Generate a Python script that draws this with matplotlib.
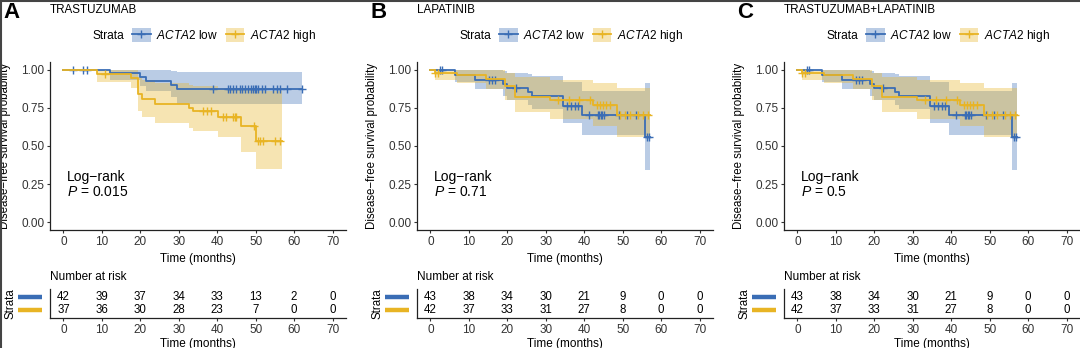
import matplotlib
matplotlib.use("Agg")
import matplotlib.pyplot as plt
import numpy as np
from matplotlib.lines import Line2D
from matplotlib.patches import Patch
from matplotlib.legend_handler import HandlerTuple

plt.rcParams["font.family"] = ["Liberation Sans", "DejaVu Sans"]
plt.rcParams["mathtext.fontset"] = "custom"
plt.rcParams["mathtext.rm"] = "Liberation Sans"
plt.rcParams["mathtext.it"] = "Liberation Sans:italic"

BLUE = "#3A6DB5"
YELLOW = "#E8B424"
TXT = "#333333"

# ---- panel A: trastuzumab ----
a_low_t = [0, 12.0, 20.0, 21.5, 28.0, 29.5]
a_low_s = [1.0, 0.976, 0.952, 0.928, 0.900, 0.873]
a_low_up = [1.0, 1.0, 1.0, 1.0, 0.99, 0.985]
a_low_lo = [1.0, 0.93, 0.89, 0.86, 0.82, 0.775]
a_low_cens = [2.6, 5.0, 6.0, 38.9, 42.8, 43.4, 44.1, 45.0, 45.9, 46.5, 47.2, 47.9,
              48.9, 49.3, 49.7, 50.1, 50.5, 51.6, 52.4, 54.6, 55.5, 56.4, 58.2, 62.1]
a_low_end = 62.1

a_high_t = [0, 8.6, 17.5, 19.5, 20.4, 23.9, 32.7, 33.6, 40.3, 46.3, 50.1]
a_high_s = [1.0, 0.973, 0.946, 0.838, 0.810, 0.774, 0.749, 0.726, 0.693, 0.632, 0.535]
a_high_up = [1.0, 1.0, 1.0, 0.95, 0.93, 0.91, 0.90, 0.89, 0.88, 0.87, 0.86]
a_high_lo = [1.0, 0.92, 0.88, 0.73, 0.69, 0.65, 0.62, 0.60, 0.56, 0.46, 0.35]
a_high_cens = [10.7, 36.3, 37.4, 38.3, 41.5, 42.4, 44.1, 44.6, 45.0, 49.5,
               50.5, 51.1, 52.0, 55.1, 56.4]
a_high_end = 56.8

a_risk_low = [42, 39, 37, 34, 33, 13, 2, 0]
a_risk_high = [37, 36, 30, 28, 23, 7, 0, 0]

# ---- panel B: lapatinib ----
b_low_t = [0, 6.5, 11.5, 18.8, 19.9, 25.5, 26.4, 34.6, 39.3, 55.7]
b_low_s = [1.0, 0.965, 0.932, 0.906, 0.880, 0.855, 0.830, 0.763, 0.700, 0.560]
b_low_up = [1.0, 1.0, 1.0, 0.99, 0.98, 0.97, 0.96, 0.92, 0.86, 0.91]
b_low_lo = [1.0, 0.92, 0.87, 0.83, 0.80, 0.77, 0.74, 0.65, 0.57, 0.345]
b_low_cens = [2.6, 3.0, 15.2, 16.1, 16.7, 22.2, 35.4, 36.5, 37.6, 38.5, 41.3, 43.6,
              43.9, 44.3, 44.6, 45.2, 49.1, 51.2, 53.4, 56.3, 56.8]
b_low_end = 57.0

b_high_t = [0, 1.3, 7.0, 14.5, 19.5, 22.0, 31.1, 42.2, 48.4]
b_high_s = [1.0, 0.976, 0.963, 0.940, 0.890, 0.823, 0.800, 0.770, 0.700]
b_high_up = [1.0, 1.0, 1.0, 1.0, 0.98, 0.95, 0.93, 0.91, 0.88]
b_high_lo = [1.0, 0.93, 0.91, 0.87, 0.80, 0.72, 0.68, 0.63, 0.56]
b_high_cens = [1.3, 1.9, 33.3, 36.0, 38.6, 41.4, 43.2, 44.0, 44.8, 45.6, 46.6,
               49.3, 50.6, 51.9, 54.1, 55.4, 56.7]
b_high_end = 57.0

b_risk_low = [43, 38, 34, 30, 21, 9, 0, 0]
b_risk_high = [42, 37, 33, 31, 27, 8, 0, 0]

# panel C (combination) shows the same curves and risk counts as B
c_risk_low = [43, 38, 34, 30, 21, 9, 0, 0]
c_risk_high = [42, 37, 33, 31, 27, 8, 0, 0]

risk_times = [0, 10, 20, 30, 40, 50, 60, 70]
titles = ["TRASTUZUMAB", "LAPATINIB", "TRASTUZUMAB+LAPATINIB"]
letters = ["A", "B", "C"]
pvals = ["0.015", "0.71", "0.5"]


def draw_km(ax, t, s, up, lo, cens, end, color):
    tt = np.append(t, end)
    ss = np.append(s, s[-1])
    ax.fill_between(tt, np.append(lo, lo[-1]), np.append(up, up[-1]),
                    step="post", color=color, alpha=0.35, lw=0)
    ax.step(tt, ss, where="post", color=color, lw=1.3)
    idx = np.searchsorted(t, cens, side="right") - 1
    ax.plot(cens, np.asarray(s)[idx], ls="none", marker="+", ms=6, mew=1.0,
            color=color)


def style_axis(ax):
    for side in ["top", "right"]:
        ax.spines[side].set_visible(False)
    for side in ["left", "bottom"]:
        ax.spines[side].set_color("#222222")
        ax.spines[side].set_linewidth(0.9)
    ax.tick_params(colors=TXT, labelsize=8.5, length=2.5, width=0.8, pad=1.5)
    ax.set_xlim(-3.5, 73.5)
    ax.set_xticks(risk_times)


W, H = 1080, 348
fig = plt.figure(figsize=(W / 100, H / 100), dpi=100)

panels = [
    (a_low_t, a_low_s, a_low_up, a_low_lo, a_low_cens, a_low_end,
     a_high_t, a_high_s, a_high_up, a_high_lo, a_high_cens, a_high_end,
     a_risk_low, a_risk_high),
    (b_low_t, b_low_s, b_low_up, b_low_lo, b_low_cens, b_low_end,
     b_high_t, b_high_s, b_high_up, b_high_lo, b_high_cens, b_high_end,
     b_risk_low, b_risk_high),
    (b_low_t, b_low_s, b_low_up, b_low_lo, b_low_cens, b_low_end,
     b_high_t, b_high_s, b_high_up, b_high_lo, b_high_cens, b_high_end,
     c_risk_low, c_risk_high),
]
lefts = [50, 417, 784]
aw = 296

for i, p in enumerate(panels):
    left = lefts[i] / W
    ax = fig.add_axes([left, (H - 230) / H, aw / W, 168 / H])
    draw_km(ax, *p[0:6], BLUE)
    draw_km(ax, *p[6:12], YELLOW)
    style_axis(ax)
    ax.set_ylim(-0.05, 1.05)
    ax.set_yticks([0, 0.25, 0.5, 0.75, 1.0])
    ax.set_yticklabels(["0.00", "0.25", "0.50", "0.75", "1.00"])
    ax.set_xlabel("Time (months)", fontsize=8.5, color="black")
    ax.xaxis.set_label_coords(0.5, -0.137)
    ax.set_ylabel("Disease\u2212free survival probability", fontsize=8.3,
                  color="black")
    ax.yaxis.set_label_coords(-0.132, 0.5)

    ax.text(1.0, 0.30, "Log\u2212rank", fontsize=10, va="center", color="black")
    ax.text(1.0, 0.20, "$P$ = " + pvals[i], fontsize=10, va="center",
            color="black")

    ax.text(0.0, 1.31, titles[i], transform=ax.transAxes, fontsize=8.4,
            va="center", ha="left", color="black")
    fig.text((lefts[i] - 47) / W, 1 - 12 / H, letters[i], fontsize=16,
             fontweight="bold", va="center", ha="left")

    # legend: "Strata" text followed by the two keys
    ax.text(0.145, 1.155, "Strata", transform=ax.transAxes, fontsize=8.6,
            va="center", ha="left")
    handles = []
    for col in [BLUE, YELLOW]:
        patch = Patch(facecolor=col, alpha=0.35, lw=0)
        line = Line2D([], [], color=col, lw=1.3, marker="+", ms=6, mew=1.0)
        handles.append((patch, line))
    ax.legend(handles, [r"$\it{ACTA2}$ low", r"$\it{ACTA2}$ high"],
              handler_map={tuple: HandlerTuple(ndivide=1)},
              loc="center left", bbox_to_anchor=(0.277, 1.155), ncol=2,
              frameon=False, fontsize=8.6, borderpad=0, borderaxespad=0,
              handlelength=1.55, handleheight=1.4, handletextpad=0.5,
              columnspacing=0.6)

    # number at risk table
    tb = fig.add_axes([left, (H - 318) / H, aw / W, 29 / H])
    style_axis(tb)
    tb.set_ylim(0.3, 2.7)
    tb.set_yticks([])
    for x, n1, n2 in zip(risk_times, p[12], p[13]):
        tb.text(x, 2, str(n1), ha="center", va="center", fontsize=8.3,
                color="black")
        tb.text(x, 1, str(n2), ha="center", va="center", fontsize=8.3,
                color="black")
    ytr = tb.get_yaxis_transform()
    for y, col in [(2, BLUE), (1, YELLOW)]:
        tb.plot([-0.108, -0.027], [y, y], transform=ytr, color=col, lw=3.2,
                solid_capstyle="butt", clip_on=False)
    tb.text(-0.132, 1.5, "Strata", transform=ytr, rotation=90, fontsize=8.3,
            ha="center", va="center")
    tb.text(0.0, 1.41, "Number at risk", transform=tb.transAxes, fontsize=8.5,
            ha="left", va="center")
    tb.set_xlabel("Time (months)", fontsize=8.5, color="black")
    tb.xaxis.set_label_coords(0.5, -0.68)

# thin frame on the top and left edge
fig.add_artist(Line2D([0, 1], [0.998, 0.998], transform=fig.transFigure,
                      color="#444444", lw=1.5))
fig.add_artist(Line2D([0.001, 0.001], [0, 1], transform=fig.transFigure,
                      color="#444444", lw=1.5))

fig.savefig("out.png", dpi=100)
